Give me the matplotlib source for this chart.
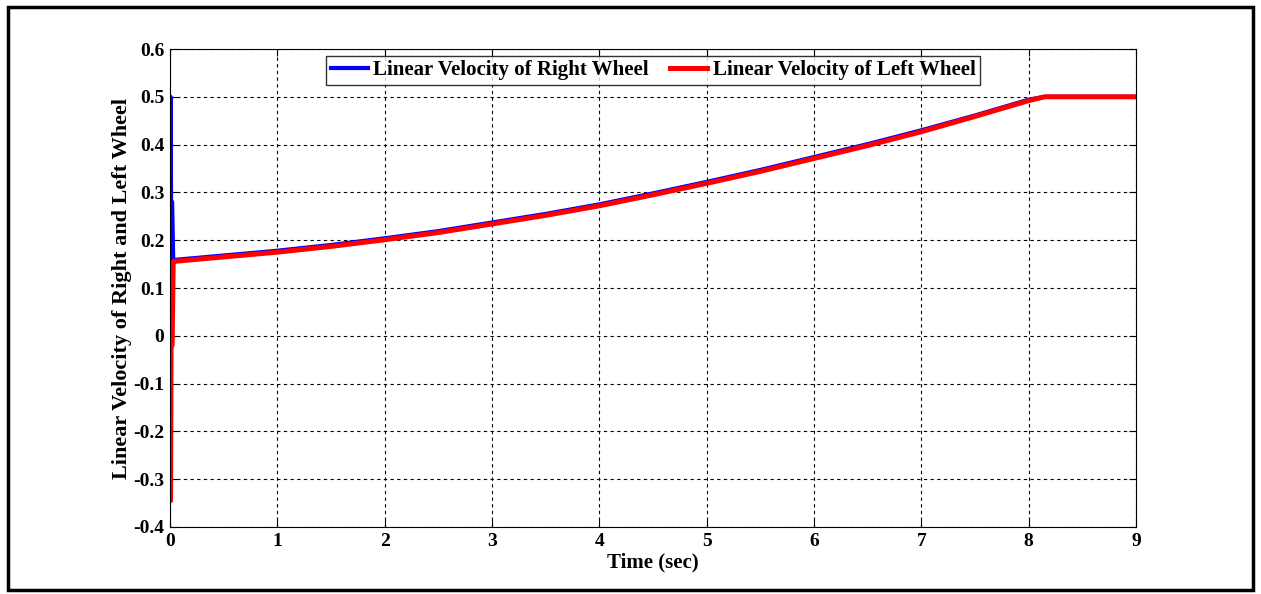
import numpy as np
import matplotlib.pyplot as plt
from matplotlib.patches import Rectangle

# time samples (sec) and wheel velocities
t_right = [0.0, 0.005, 0.01, 0.02, 0.03, 0.035, 0.05, 0.5, 1, 1.5, 2, 2.5, 3, 3.5, 4, 4.5,
           5, 5.5, 6, 6.5, 7, 7.5, 8, 8.15, 9]
v_right = [0.0, 0.5, 0.28, 0.28, 0.16, 0.159, 0.159, 0.168, 0.178, 0.19, 0.204, 0.219, 0.237,
           0.255, 0.275, 0.298, 0.322, 0.347, 0.374, 0.401, 0.43, 0.461, 0.494, 0.5, 0.5]

t_left = [0.0, 0.005, 0.01, 0.02, 0.03, 0.035, 0.05, 0.5, 1, 1.5, 2, 2.5, 3, 3.5, 4, 4.5,
          5, 5.5, 6, 6.5, 7, 7.5, 8, 8.15, 9]
v_left = [0.0, -0.345, -0.02, -0.02, 0.155, 0.155, 0.156, 0.165, 0.175, 0.187, 0.201, 0.216, 0.234,
          0.252, 0.272, 0.295, 0.319, 0.344, 0.371, 0.398, 0.427, 0.459, 0.492, 0.5, 0.5]

plt.rcParams['font.family'] = ['Liberation Serif', 'DejaVu Serif']
plt.rcParams['font.weight'] = 'bold'

fig = plt.figure(figsize=(12.61, 5.94), dpi=100)
ax = fig.add_axes([0.1348, 0.1128, 0.7661, 0.8047])

ax.plot(t_right, v_right, color='blue', lw=3, label='Linear Velocity of Right Wheel')
ax.plot(t_left, v_left, color='red', lw=3.6, label='Linear Velocity of Left Wheel')

ax.set_xlim(0, 9)
ax.set_ylim(-0.4, 0.6)
ax.set_xticks(np.arange(0, 10, 1))
ax.set_yticks(np.arange(-0.4, 0.61, 0.1))
ax.set_yticklabels(['-0.4', '-0.3', '-0.2', '-0.1', '0', '0.1', '0.2', '0.3', '0.4', '0.5', '0.6'])
ax.tick_params(direction='in', length=5, labelsize=14, top=True, right=True, pad=4)
for lab in ax.get_xticklabels() + ax.get_yticklabels():
    lab.set_fontweight('bold')
ax.grid(True, color='black', linestyle=(0, (3, 3)), lw=0.8)

ax.set_xlabel('Time (sec)', fontsize=15, fontweight='bold', labelpad=2)
ax.set_ylabel('Linear Velocity of Right and Left Wheel', fontsize=16, fontweight='bold', labelpad=1)

leg = ax.legend(loc='upper center', bbox_to_anchor=(0.5, 0.985), ncol=2, fontsize=15,
                frameon=True, fancybox=False, edgecolor='black', handlelength=1.8,
                handletextpad=0.25, columnspacing=1.0, borderpad=0.2, borderaxespad=0.0)
leg.get_frame().set_linewidth(1.0)
for txt in leg.get_texts():
    txt.set_fontweight('bold')

# outer frame around the whole picture
fig.patches.append(Rectangle((0.006, 0.007), 0.988, 0.982, transform=fig.transFigure,
                             fill=False, edgecolor='black', lw=2.5))

fig.savefig('out.png', dpi=100)
